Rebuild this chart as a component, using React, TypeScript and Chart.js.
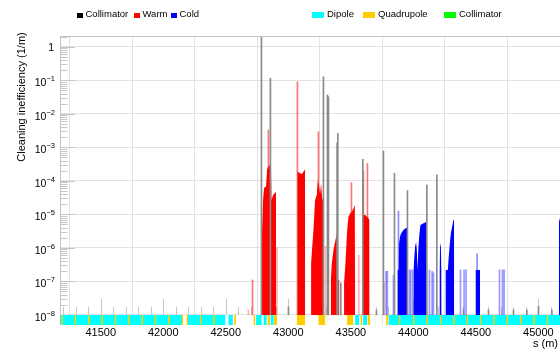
import React, { useEffect, useRef } from "react";
import { Chart, registerables } from "chart.js";

Chart.register(...registerables);

const FONT = "'Liberation Sans', Arial, Helvetica, sans-serif";

// ---- axes ----
const sRange = [41174, 45173];
const yRange = [5e-9, 2.1];
const lossFloor = 1e-8;
const xTicks = [41500, 42000, 42500, 43000, 43500, 44000, 44500, 45000];
const yDecadeExponents = [-8, -7, -6, -5, -4, -3, -2, -1, 0];
const yTitle = "Cleaning inefficiency (1/m)";
const xTitle = "s (m)";

// ---- collimator losses (black / grey lines) ----
const collimatorS = [42785, 42857, 43001, 43281, 43313, 43321, 43390, 43396, 43420, 43596, 43705, 43761, 43849, 43953, 44108, 44188, 44401, 44601, 44801, 44908, 45001, 45108];
const collimatorV = [3, 0.115, 1.75e-8, 0.128, 0.0365, 0.0324, 1.35e-3, 2.6e-3, 9e-8, 4.4e-4, 1.4e-8, 7.8e-4, 1.68e-4, 5.1e-5, 7.5e-5, 1.5e-4, 1.4e-8, 1.4e-8, 1.4e-8, 1.4e-8, 1.8e-8, 1.4e-8];

// ---- warm losses: isolated bins ----
const warmSpikeS = [42714, 42841, 43073, 43241, 43505, 43601, 43633];
const warmSpikeV = [1.1e-7, 3.3e-3, 0.091, 2.9e-3, 8.8e-5, 1.9e-4, 3.3e-4];
const warmFaintS = [42681, 42910, 43297, 43564, 43766];
const warmFaintV = [1.4e-8, 1e-6, 1.1e-6, 6e-7, 9e-8];

// ---- warm losses: dense regions [s, value] ----
const warmA = [[42784, 1e-8], [42785, 2.2e-7], [42790, 3.4e-6], [42798, 2.7e-5], [42806, 6.1e-5], [42822, 6.9e-5], [42830, 2.1e-4], [42838, 2.6e-4], [42854, 3.0e-4], [42862, 2.1e-4], [42866, 2.7e-5], [42878, 3.8e-5], [42898, 4.6e-5], [42902, 4.6e-5], [42902, 1e-8]];
const warmB = [[43072, 1e-8], [43073, 1.9e-4], [43094, 1.7e-4], [43110, 1.6e-4], [43126, 2.0e-4], [43134, 2.2e-4], [43135, 1e-8]];
const warmC = [[43182, 1e-8], [43182, 3.5e-7], [43201, 3.4e-6], [43214, 2.7e-5], [43228, 3.8e-5], [43236, 1.06e-4], [43246, 6.7e-5], [43254, 4.2e-5], [43262, 8.4e-5], [43270, 3.4e-5], [43281, 2.1e-5], [43282, 1e-8]];
const warmD = [[43340, 1e-8], [43340, 1.1e-7], [43348, 3.5e-7], [43361, 8.6e-7], [43374, 1.5e-6], [43388, 2.7e-6], [43395, 3.4e-6], [43396, 1.1e-7], [43409, 1.1e-7], [43409, 1e-8]];
const warmE = [[43446, 1e-8], [43446, 9e-8], [43457, 3.5e-7], [43468, 2.2e-6], [43473, 4.3e-6], [43481, 8.5e-6], [43494, 1.07e-5], [43508, 1.2e-5], [43521, 1.5e-5], [43532, 1.9e-5], [43534, 1e-8]];
const warmF = [[43596, 1e-8], [43596, 9.6e-6], [43614, 9.6e-6], [43628, 8.5e-6], [43641, 7.6e-6], [43649, 6.8e-6], [43650, 1e-8]];

// ---- cold losses: dense regions ----
const coldG = [[43873, 1e-8], [43873, 2.2e-7], [43884, 2.2e-7], [43886, 1.37e-6], [43894, 2.2e-6], [43902, 2.7e-6], [43921, 3.4e-6], [43942, 3.9e-6], [43953, 4.0e-6], [43954, 1e-8]];
const coldH = [[44001, 1e-8], [44001, 2.2e-7], [44006, 4.3e-7], [44014, 1.08e-6], [44022, 1.5e-6], [44028, 8.6e-7], [44033, 2.2e-7], [44041, 1.08e-6], [44049, 2.7e-6], [44057, 4.8e-6], [44068, 5.1e-6], [44081, 5.4e-6], [44094, 5.7e-6], [44108, 6.0e-6], [44109, 1e-8]];
const coldI = [[44209, 1e-8], [44209, 2.2e-7], [44214, 1.37e-6], [44220, 1.08e-6], [44225, 2.2e-7], [44226, 1e-8]];
const coldJ = [[44257, 1e-8], [44257, 2.2e-7], [44276, 2.2e-7], [44281, 4.3e-7], [44294, 1.7e-6], [44302, 3.0e-6], [44313, 4.8e-6], [44321, 7.1e-6], [44326, 6.4e-6], [44327, 1e-8]];
const coldK = [[44497, 1e-8], [44497, 2.2e-7], [44534, 2.2e-7], [44534, 1e-8]];
const coldL = [[45165, 1e-8], [45165, 6e-6], [45175, 8.5e-6], [45180, 9e-6]];

// ---- cold losses: isolated bins ----
const coldSpikeS = [43881, 44510];
const coldSpikeV = [1.26e-5, 6.6e-7];
const coldFaintS = [43782, 43792, 43841, 43969, 43980, 43996, 44129, 44150, 44161, 44377, 44406, 44422, 44689, 44713, 44726];
const coldFaintV = [2e-7, 2e-7, 1.5e-7, 2.2e-7, 2.2e-7, 2.2e-7, 2.2e-7, 2e-7, 1.8e-7, 2.2e-7, 2.2e-7, 2.2e-7, 2.2e-7, 2.2e-7, 2.2e-7];

// ---- aperture / element band [start, end] ----
const dipoleSegments = [[41174, 42156], [42188, 42498], [42520, 42557], [42742, 42788], [42801, 42828], [42858, 42884], [43534, 43569], [43598, 43630], [43800, 45180]];
const quadrupoleSegments = [
  [41183, 41197], [41290, 41304], [41397, 41411], [41504, 41518], [41611, 41625], [41718, 41732], [41824, 41838], [41931, 41945], [42038, 42052], [42145, 42159],
  [42185, 42199], [42292, 42306], [42399, 42413], [42567, 42582],
  [42721, 42737], [42833, 42855], [42886, 42910], [43068, 43134], [43240, 43296], [43468, 43521], [43576, 43592], [43634, 43655], [43782, 43800],
  [43883, 43897], [43997, 44011], [44104, 44118], [44211, 44225], [44318, 44332], [44425, 44439], [44531, 44545], [44638, 44652], [44745, 44759], [44852, 44866], [44959, 44973], [45066, 45080],
];
const collimatorElements = [[42806, 42810], [43308, 43312], [43391, 43395], [43698, 43702]];

function blockData(blocks: number[][][]) {
  const out: any[] = [];
  blocks.forEach((b, i) => {
    if (i > 0) out.push({ x: b[0][0], y: null });
    b.forEach(([x, y]) => out.push({ x, y }));
  });
  return out;
}

function segmentData(segs: number[][], level: number) {
  const out: any[] = [];
  segs.forEach(([a, b], i) => {
    if (i > 0) out.push({ x: a, y: null });
    out.push({ x: a, y: level }, { x: b, y: level });
  });
  return out;
}

function spikeData(s: number[], v: number[]) {
  return s.map((x, i) => ({ x, y: [lossFloor, v[i]] }));
}

const decorPlugin = {
  id: "decor",
  beforeDatasetsDraw(chart: any) {
    const { ctx, chartArea, scales } = chart;
    const x = scales.x;
    const y = scales.y;
    const floorPx = y.getPixelForValue(lossFloor);
    ctx.save();
    ctx.strokeStyle = "#c6c6c6";
    ctx.lineWidth = 1;
    ctx.beginPath();
    for (const e of yDecadeExponents) {
      for (let m = 1; m <= 9; m++) {
        const v = m * Math.pow(10, e);
        if (v > yRange[1]) continue;
        const py = Math.round(y.getPixelForValue(v)) + 0.5;
        const len = m === 1 ? 15 : 7.5;
        ctx.moveTo(chartArea.left, py);
        ctx.lineTo(chartArea.left + len, py);
      }
    }
    for (let s = Math.ceil(sRange[0] / 100) * 100; s <= sRange[1]; s += 100) {
      const px = Math.round(x.getPixelForValue(s)) + 0.5;
      const len = s % 500 === 0 ? 16 : 8;
      ctx.moveTo(px, floorPx);
      ctx.lineTo(px, floorPx - len);
    }
    ctx.stroke();
    ctx.restore();
  },
  afterDraw(chart: any) {
    const { ctx, chartArea, scales } = chart;
    const y = scales.y;
    const floorPx = y.getPixelForValue(lossFloor);
    ctx.save();
    ctx.strokeStyle = "#c4c4c4";
    ctx.lineWidth = 1;
    ctx.beginPath();
    ctx.moveTo(chartArea.left + 0.5, floorPx);
    ctx.lineTo(chartArea.left + 0.5, chartArea.top + 0.5);
    ctx.lineTo(chartArea.right, chartArea.top + 0.5);
    ctx.stroke();
    ctx.fillStyle = "#000";
    ctx.textAlign = "right";
    ctx.textBaseline = "middle";
    const right = 55;
    for (const e of yDecadeExponents) {
      const py = y.getPixelForValue(Math.pow(10, e));
      if (e === 0) {
        ctx.font = `10.5px ${FONT}`;
        ctx.fillText("1", right - 1, py + 1);
      } else {
        const exp = "\u2212" + String(-e);
        ctx.font = `7.5px ${FONT}`;
        const w = ctx.measureText(exp).width;
        ctx.fillText(exp, right, py - 1);
        ctx.font = `10.5px ${FONT}`;
        ctx.fillText("10", right - w, py + 3);
      }
    }
    // axis titles
    ctx.font = `11px ${FONT}`;
    ctx.textAlign = "center";
    ctx.textBaseline = "middle";
    ctx.save();
    ctx.translate(22, 97);
    ctx.rotate(-Math.PI / 2);
    ctx.fillText(yTitle, 0, 0);
    ctx.restore();
    ctx.textAlign = "right";
    ctx.fillText(xTitle, 558, 344);
    ctx.restore();
  },
};

const legendLeft = [
  { label: "Collimator", color: "#000000" },
  { label: "Warm", color: "#ff0000" },
  { label: "Cold", color: "#0000ff" },
];
const legendRight = [
  { label: "Dipole", color: "#00ffff" },
  { label: "Quadrupole", color: "#ffcc00" },
  { label: "Collimator", color: "#00ff00" },
];
const legendLeftX = [77, 134, 171];
const legendRightX = [312, 363, 444];

export default function App() {
  const canvasRef = useRef<HTMLCanvasElement | null>(null);

  useEffect(() => {
    const canvas = canvasRef.current;
    if (!canvas) return;
    const lineBase = {
      type: "line" as const,
      borderColor: "rgba(0,0,0,0)",
      borderWidth: 0,
      pointRadius: 0,
      spanGaps: false,
      tension: 0,
    };
    const barBase = {
      type: "bar" as const,
      barThickness: 1,
      grouped: false,
      borderWidth: 0,
    };
    const chart = new Chart(canvas, {
      type: "line",
      data: {
        datasets: [
          { ...lineBase, label: "Collimator element", data: segmentData(collimatorElements, lossFloor), backgroundColor: "rgba(0,255,0,0.6)", fill: "start", order: 0 },
          { ...lineBase, label: "Quadrupole", data: segmentData(quadrupoleSegments, lossFloor), backgroundColor: "#ffcc00", fill: "start", order: 1 },
          { ...lineBase, label: "Dipole", data: segmentData(dipoleSegments, lossFloor), backgroundColor: "#00ffff", fill: "start", order: 2 },
          { ...barBase, label: "Collimator", data: spikeData(collimatorS, collimatorV), backgroundColor: "#8a8a8a", order: 3 },
          { ...barBase, label: "Warm bins", data: spikeData(warmSpikeS, warmSpikeV), backgroundColor: "rgba(255,0,0,0.55)", order: 4 },
          { ...barBase, label: "Warm faint", data: spikeData(warmFaintS, warmFaintV), backgroundColor: "rgba(255,0,0,0.3)", order: 4 },
          { ...barBase, label: "Cold bins", data: spikeData(coldSpikeS, coldSpikeV), backgroundColor: "rgba(0,0,255,0.45)", order: 4 },
          { ...barBase, label: "Cold faint", data: spikeData(coldFaintS, coldFaintV), backgroundColor: "rgba(0,0,255,0.4)", order: 4 },
          { ...lineBase, label: "Warm", data: blockData([warmA, warmB, warmC, warmD, warmE, warmF]), backgroundColor: "#ff0000", fill: { value: lossFloor }, order: 5 },
          { ...lineBase, label: "Cold", data: blockData([coldG, coldH, coldI, coldJ, coldK, coldL]), backgroundColor: "#0000ff", fill: { value: lossFloor }, order: 5 },
        ] as any,
      },
      options: {
        animation: false,
        responsive: false,
        devicePixelRatio: 1,
        events: [],
        layout: { padding: { top: 36, left: 0, right: 0, bottom: 0 } },
        plugins: { legend: { display: false }, tooltip: { enabled: false } },
        scales: {
          x: {
            type: "linear",
            min: sRange[0],
            max: sRange[1],
            offset: false,
            grid: { color: "#e2e2e2", drawTicks: false, lineWidth: 1 },
            border: { display: false },
            ticks: {
              font: { family: FONT, size: 11 },
              color: "#000",
              padding: 1,
              maxRotation: 0,
              autoSkip: false,
              callback: (v: any) => String(v),
            },
            afterBuildTicks: (s: any) => {
              s.ticks = xTicks.map((v) => ({ value: v }));
            },
            afterFit: (s: any) => {
              s.height = 26;
            },
          },
          y: {
            type: "logarithmic",
            min: yRange[0],
            max: yRange[1],
            grid: { color: "#e2e2e2", drawTicks: false, lineWidth: 1 },
            border: { display: false },
            ticks: { display: false },
            afterBuildTicks: (s: any) => {
              s.ticks = yDecadeExponents.map((e) => ({ value: Math.pow(10, e) }));
            },
            afterFit: (s: any) => {
              s.width = 60;
            },
          },
        },
      } as any,
      plugins: [decorPlugin],
    });
    return () => chart.destroy();
  }, []);

  const textStyle: React.CSSProperties = {
    position: "absolute",
    fontFamily: FONT,
    fontSize: "9.5px",
    lineHeight: "10px",
    top: 8.5,
    color: "#000",
    whiteSpace: "nowrap",
  };

  return (
    <div style={{ position: "absolute", left: 0, top: 0, width: 560, height: 351, background: "#fff", overflow: "hidden" }}>
      <canvas ref={canvasRef} width={560} height={351} style={{ position: "absolute", left: 0, top: 0, display: "block" }} />
      {legendLeft.map((it, i) => (
        <React.Fragment key={"l" + i}>
          <div style={{ position: "absolute", left: legendLeftX[i], top: 12.5, width: 6, height: 5, background: it.color }} />
          <div style={{ ...textStyle, left: legendLeftX[i] + 8.5 }}>{it.label}</div>
        </React.Fragment>
      ))}
      {legendRight.map((it, i) => (
        <React.Fragment key={"r" + i}>
          <div style={{ position: "absolute", left: legendRightX[i], top: 12, width: 12, height: 5.5, background: it.color }} />
          <div style={{ ...textStyle, left: legendRightX[i] + 15 }}>{it.label}</div>
        </React.Fragment>
      ))}
    </div>
  );
}
